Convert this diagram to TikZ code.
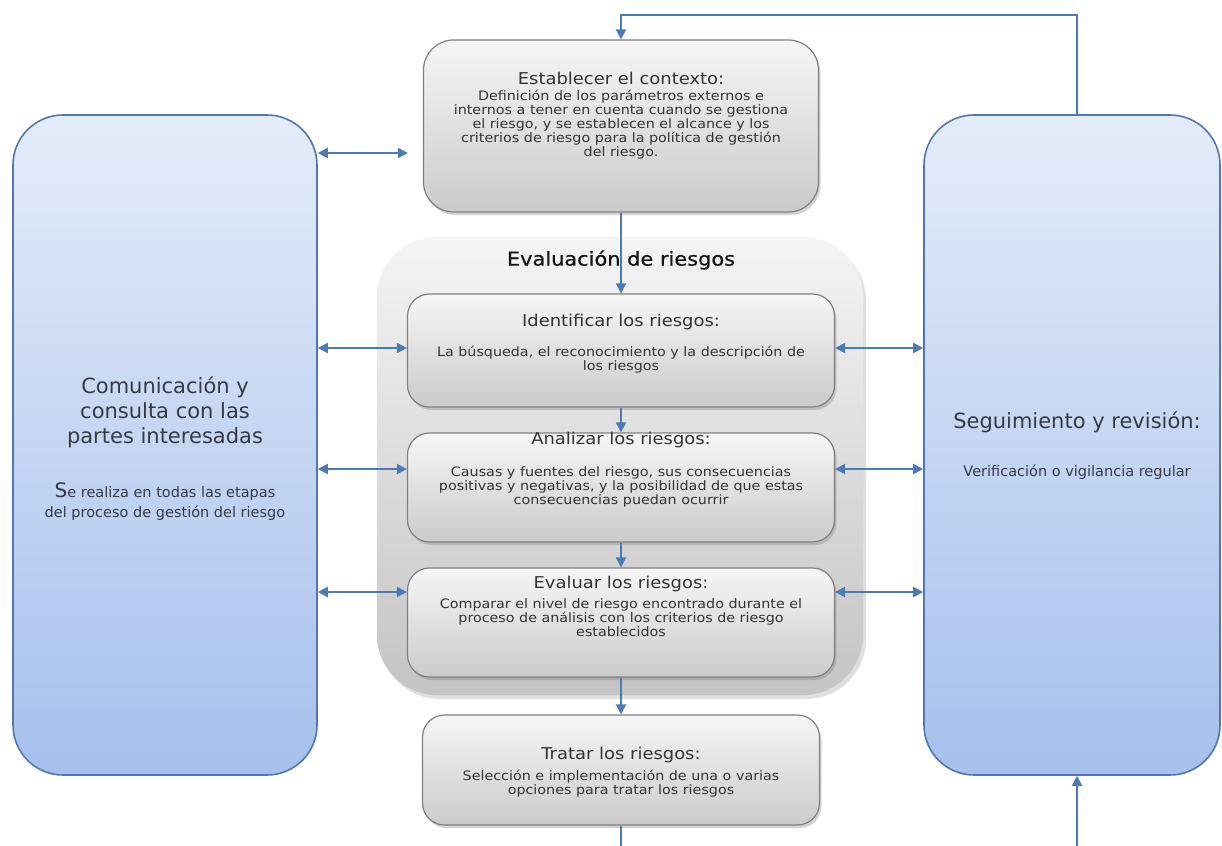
\documentclass[tikz,border=0pt]{standalone}
\usepackage{fontspec}
\setmainfont{DejaVu Sans}
\newfontfamily\wideface{DejaVu Sans}[FakeStretch=1.1]
\newfontfamily\headface{DejaVu Sans}[FakeStretch=1.1,FakeBold=0.6]
\usetikzlibrary{arrows.meta,shadows}

\definecolor{linkblue}{HTML}{4A7BB7}
\definecolor{bluetop}{HTML}{E4ECF9}
\definecolor{bluebot}{HTML}{A6C0EC}
\definecolor{blueedge}{HTML}{5077B0}
\definecolor{graytop}{HTML}{F6F6F6}
\definecolor{graybot}{HTML}{CBCBCB}
\definecolor{grayedge}{HTML}{808080}
\definecolor{cnttop}{HTML}{F4F4F4}
\definecolor{cntbot}{HTML}{C4C4C4}
\definecolor{graytext}{HTML}{333333}
\definecolor{bluetext}{HTML}{353A45}

\begin{document}
\begin{tikzpicture}[x=1pt,y=-1pt,
  bluebox/.style={draw=blueedge, line width=1.6pt, rounded corners=50pt,
    top color=bluetop, bottom color=bluebot, inner sep=0pt},
  container/.style={rounded corners=60pt, top color=cnttop, bottom color=cntbot,
    inner sep=0pt, drop shadow={shadow xshift=3pt, shadow yshift=-4pt, opacity=0.25}},
  graybox/.style={draw=grayedge, line width=1.2pt, rounded corners=22pt,
    top color=graytop, bottom color=graybot, inner sep=0pt,
    drop shadow={shadow xshift=2pt, shadow yshift=-3pt, opacity=0.35}},
  gtitle/.style={text=graytext, font=\wideface\fontsize{16.3}{18}\selectfont, inner sep=0pt},
  gbody/.style={text=graytext, align=center, font=\wideface\fontsize{13}{14}\selectfont, inner sep=0pt},
  hdr/.style={text=black!92, font=\headface\fontsize{19}{20}\selectfont, inner sep=0pt},
  btitle/.style={text=bluetext, align=center, font=\fontsize{21}{25}\selectfont, inner sep=0pt},
  bbody/.style={text=bluetext, align=center, font=\fontsize{14.5}{19.5}\selectfont, inner sep=0pt},
  flow/.style={draw=linkblue, line width=2pt, -{Triangle[length=10pt,width=10pt]}},
  biflow/.style={draw=linkblue, line width=2pt,
    {Triangle[length=10pt,width=10pt]}-{Triangle[length=10pt,width=10pt]}}
]
\useasboundingbox (0,0) rectangle (1222,845);
\clip (0,0) rectangle (1222,845);
\fill[white] (0,0) rectangle (1222,845);

% side panels
\node[bluebox, minimum width=304pt, minimum height=660pt] (com) at (165,445) {};
\node[bluebox, minimum width=296pt, minimum height=660pt] (seg) at (1072,445) {};

% risk assessment container and its steps
\node[container, minimum width=486pt, minimum height=458pt] (eval) at (620,466) {};
\node[graybox, rounded corners=30pt, minimum width=395pt, minimum height=172pt] (ctx) at (621,126) {};
\node[graybox, minimum width=427pt, minimum height=113pt] (ident) at (621,350.5) {};
\node[graybox, minimum width=427pt, minimum height=109pt] (anal) at (621,487.5) {};
\node[graybox, minimum width=427pt, minimum height=109pt] (evar) at (621,622.5) {};
\node[graybox, minimum width=397pt, minimum height=110pt] (trat) at (621,770) {};

% texts
\node[gtitle] (ctxT) at (621,78) {Establecer el contexto:};
\node[gbody] (ctxB) at (621,125) {Definición de los parámetros externos e\\internos a tener en cuenta cuando se gestiona\\el riesgo, y se establecen el alcance y los\\criterios de riesgo para la política de gestión\\del riesgo.};
\node[hdr] (evalT) at (621,260) {Evaluación de riesgos};
\node[gtitle] (identT) at (621,322) {Identificar los riesgos:};
\node[gbody] (identB) at (621,359.5) {La búsqueda, el reconocimiento y la descripción de\\los riesgos};
\node[gtitle] (analT) at (621,440) {Analizar los riesgos:};
\node[gbody] (analB) at (621,487) {Causas y fuentes del riesgo, sus consecuencias\\positivas y negativas, y la posibilidad de que estas\\consecuencias puedan ocurrir};
\node[gtitle] (evarT) at (621,584) {Evaluar los riesgos:};
\node[gbody] (evarB) at (621,618) {Comparar el nivel de riesgo encontrado durante el\\proceso de análisis con los criterios de riesgo\\establecidos};
\node[gtitle] (tratT) at (621,755) {Tratar los riesgos:};
\node[gbody] (tratB) at (621,783.5) {Selección e implementación de una o varias\\opciones para tratar los riesgos};

\node[btitle] (comT) at (165,412) {Comunicación y\\consulta con las\\partes interesadas};
\node[bbody] (comB) at (165,501.5) {{\fontsize{20}{20}\selectfont S}e realiza en todas las etapas\\del proceso de gestión del riesgo};
\node[btitle] (segT) at (1077,422) {Seguimiento y revisión:};
\node[bbody] (segB) at (1077,472) {Verificación o vigilancia regular};

% process flow
\draw[flow] (1077,0 |- seg.north) -- (1077,15) -| (ctx.north);
\draw[flow] (ctx.south) -- (ident.north);
\draw[flow] (ident.south) -- (anal.north);
\draw[flow] (anal.south) -- (evar.north);
\draw[flow] (evar.south) -- (trat.north);
\draw[flow] (trat.south) -- (621,870) -| (1077,0 |- seg.south);

% communication links
\draw[biflow, shorten >=15pt] (com.east |- 0,153) -- (ctx.west |- 0,153);
\draw[biflow] (com.east |- 0,348) -- (ident.west |- 0,348);
\draw[biflow] (com.east |- 0,469) -- (anal.west |- 0,469);
\draw[biflow] (com.east |- 0,592) -- (evar.west |- 0,592);

% monitoring links
\draw[biflow] (ident.east |- 0,348) -- (seg.west |- 0,348);
\draw[biflow] (anal.east |- 0,469) -- (seg.west |- 0,469);
\draw[biflow] (evar.east |- 0,592) -- (seg.west |- 0,592);
\end{tikzpicture}
\end{document}
